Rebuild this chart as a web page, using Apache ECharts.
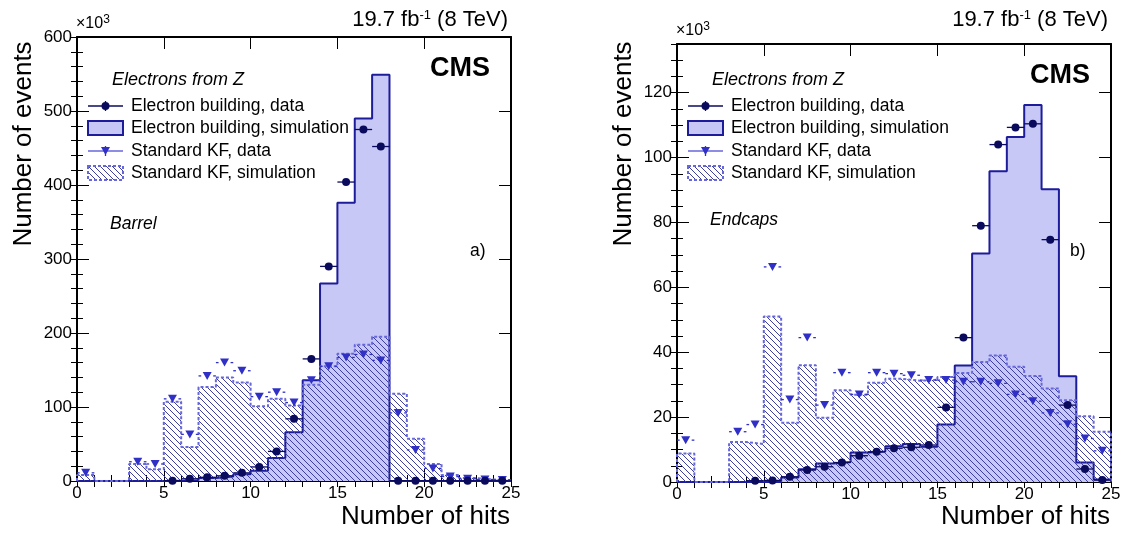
<!DOCTYPE html>
<html>
<head>
<meta charset="utf-8">
<script src="https://cdn.jsdelivr.net/npm/echarts@6/dist/echarts.min.js"></script>
<style>
  html, body { margin: 0; padding: 0; background: #fff; }
  #chart { width: 1126px; height: 533px; }
</style>
</head>
<body>
<div id="chart"></div>
<script>
// bin lower edges, unit width
const binLow = [0, 1, 2, 3, 4, 5, 6, 7, 8, 9, 10, 11, 12, 13, 14, 15, 16, 17, 18, 19, 20, 21, 22, 23, 24]

// barrel (x10^3 events)
const barrelElecData = [null, null, null, null, null, 0.5, 3, 5, 7, 11, 19, 40, 84, 165, 290, 404, 475, 452, 0.5, 0.3, 0.3, 0.2, 0.2, 0.2, 0.2]
const barrelElecSim = [0, 0, 0, 0, 0, 0.5, 1, 4, 6, 9, 14, 31, 66, 136, 267, 376, 490, 549, 0, 0, 0, 0, 0, 0, 0]
const barrelKFData = [11, null, null, 26, 23, 111, 63, 142, 160, 149, 114, 120, 106, 136, 155, 167, 171, 163, 92, 42, 17, 6, 3, 2, 1.5]
const barrelKFSim = [8, 0, 0, 23, 16, 107, 46, 127, 140, 133, 101, 111, 102, 130, 155, 172, 184, 195, 118, 57, 23, 8, 4, 2, 1]

// endcaps (x10^3 events)
const endElecData = [null, null, null, null, 0.4, 0.5, 1.6, 3.7, 4.7, 6, 8.1, 9.3, 10.4, 10.7, 11.4, 23, 44.5, 79, 104, 109.3, 110.4, 74.7, 23.7, 4, 0.6]
const endElecSim = [0, 0, 0, 0, 0, 0, 1.4, 3.9, 5.7, 6.2, 9.1, 9.4, 11, 11.7, 10.9, 17.7, 35.9, 70.4, 95.8, 106.3, 116.2, 90.2, 32.6, 6, 0.8]
const endKFData = [12.9, null, null, 15.5, 17.7, 66.3, 25.4, 44.5, 23.7, 33.7, 27, 33.7, 33.4, 32.9, 31.4, 31.4, 30.9, 30.9, 30.4, 27, 24.9, 21.3, 17.8, 13.4, 9.6]
const endKFSim = [8.8, 0, 0, 12.3, 11.7, 51, 18.3, 36, 19.8, 28.3, 26.9, 30.6, 31.8, 31.2, 31.5, 32.4, 33.6, 37, 39, 35.5, 32.7, 28.8, 25.2, 20.3, 15.5]

const legendNames = ['Electron building, data', 'Electron building, simulation', 'Standard KF, data', 'Standard KF, simulation']
const regionNames = ['Barrel', 'Endcaps']
const panelTags = ['a)', 'b)']

const FONT = '"Liberation Sans", Arial, Helvetica, sans-serif'
const NAVY = '#0b0b5e'
const SIM_LINE = '#1d1d9c'
const SIM_FILL = '#c8c8f6'
const KF_MARK = '#3030c6'
const KF_LINE = '#6767dc'
const HATCH = '#3e3e9e'

// hatch pattern, "\\\" direction
const hatchCanvas = document.createElement('canvas')
hatchCanvas.width = 6
hatchCanvas.height = 6
const hctx = hatchCanvas.getContext('2d')
hctx.strokeStyle = HATCH
hctx.lineWidth = 1
for (const s of [-6, 0, 6]) {
  hctx.beginPath()
  hctx.moveTo(s, 0)
  hctx.lineTo(s + 6, 6)
  hctx.stroke()
}
const hatch = { image: hatchCanvas, repeat: 'repeat' }

function stepData(vals) {
  const d = [[0, 0]]
  vals.forEach((v, i) => d.push([binLow[i], v]))
  d.push([25, vals[vals.length - 1]])
  d.push([25, 0])
  return d
}

function pointData(vals) {
  const d = []
  vals.forEach((v, i) => { if (v !== null) d.push([binLow[i] + 0.5, v]) })
  return d
}

function errBar(color, gap, dash) {
  return function (params, api) {
    const x = api.value(0)
    const y = api.value(1)
    const l = api.coord([x - 0.5, y])
    const r = api.coord([x + 0.5, y])
    const c = api.coord([x, y])
    const st = { stroke: color, lineWidth: 1.3, lineDash: dash }
    return {
      type: 'group',
      children: [
        { type: 'line', shape: { x1: l[0], y1: l[1], x2: c[0] - gap, y2: c[1] }, style: st },
        { type: 'line', shape: { x1: c[0] + gap, y1: c[1], x2: r[0], y2: r[1] }, style: st }
      ]
    }
  }
}

const grids = [
  { left: 77, top: 37, width: 434, height: 444 },
  { left: 677, top: 44, width: 434, height: 438 }
]

const xAxes = []
const yAxes = []
const labelStyle = { fontFamily: FONT, fontSize: 17, color: '#000' }

function addAxes(g, yMax, yMajor, yMinor) {
  const line = { show: true, onZero: false, lineStyle: { color: '#000', width: 2 } }
  const noLine = { show: false }
  const major = { inside: true, length: 12, lineStyle: { color: '#000', width: 1 } }
  const minor = { inside: true, length: 6, lineStyle: { color: '#000', width: 1 } }
  const base = { gridIndex: g, type: 'value', splitLine: { show: false } }
  const xi = xAxes.length
  xAxes.push(Object.assign({}, base, { min: 0, max: 25, interval: 5, position: 'bottom', axisLine: line, axisTick: major, axisLabel: Object.assign({ margin: 4 }, labelStyle) }))
  xAxes.push(Object.assign({}, base, { min: 0, max: 25, interval: 1, position: 'bottom', axisLine: noLine, axisTick: minor, axisLabel: { show: false } }))
  xAxes.push(Object.assign({}, base, { min: 0, max: 25, interval: 5, position: 'top', axisLine: line, axisTick: major, axisLabel: { show: false } }))
  xAxes.push(Object.assign({}, base, { min: 0, max: 25, interval: 1, position: 'top', axisLine: noLine, axisTick: minor, axisLabel: { show: false } }))
  const yi = yAxes.length
  yAxes.push(Object.assign({}, base, { min: 0, max: yMax, interval: yMajor, position: 'left', axisLine: line, axisTick: major, axisLabel: Object.assign({ margin: 5, showMaxLabel: yMax % yMajor === 0 }, labelStyle) }))
  yAxes.push(Object.assign({}, base, { min: 0, max: yMax, interval: yMinor, position: 'left', axisLine: noLine, axisTick: minor, axisLabel: { show: false } }))
  yAxes.push(Object.assign({}, base, { min: 0, max: yMax, interval: yMajor, position: 'right', axisLine: line, axisTick: major, axisLabel: { show: false } }))
  yAxes.push(Object.assign({}, base, { min: 0, max: yMax, interval: yMinor, position: 'right', axisLine: noLine, axisTick: minor, axisLabel: { show: false } }))
  return { xi, yi }
}

const ax0 = addAxes(0, 600, 100, 20)
const ax1 = addAxes(1, 135, 20, 5)

function panelSeries(ax, elecData, elecSim, kfData, kfSim) {
  const idx = { xAxisIndex: ax.xi, yAxisIndex: ax.yi }
  return [
    Object.assign({
      type: 'line', name: legendNames[1], data: stepData(elecSim), step: 'end', showSymbol: false, z: 2,
      lineStyle: { color: SIM_LINE, width: 2 }, areaStyle: { color: SIM_FILL, opacity: 1 }
    }, idx),
    Object.assign({
      type: 'line', name: legendNames[3], data: stepData(kfSim), step: 'end', showSymbol: false, z: 3,
      lineStyle: { color: KF_LINE, width: 2, type: [3, 2] }, areaStyle: { color: hatch, opacity: 1 }
    }, idx),
    Object.assign({
      type: 'custom', name: legendNames[2] + ' bars', data: pointData(kfData), z: 4,
      renderItem: errBar(KF_MARK, 6, [4, 2]), encode: { x: 0, y: 1 }
    }, idx),
    Object.assign({
      type: 'scatter', name: legendNames[2], data: pointData(kfData), z: 5,
      symbol: 'triangle', symbolRotate: 180, symbolSize: [9, 8], itemStyle: { color: KF_MARK, opacity: 1 }
    }, idx),
    Object.assign({
      type: 'custom', name: legendNames[0] + ' bars', data: pointData(elecData), z: 4,
      renderItem: errBar(NAVY, 0, null), encode: { x: 0, y: 1 }
    }, idx),
    Object.assign({
      type: 'scatter', name: legendNames[0], data: pointData(elecData), z: 6,
      symbol: 'circle', symbolSize: 8, itemStyle: { color: NAVY, opacity: 1 }
    }, idx)
  ]
}

function text(x, y, str, extra) {
  return {
    type: 'text', x: x, y: y, z: 100,
    style: Object.assign({ text: str, fontFamily: FONT, fontSize: 17.5, fill: '#000', align: 'left', verticalAlign: 'middle' }, extra)
  }
}

function panelGraphics(ox, i, topY) {
  const els = []
  const rows = [106, 128, 151, 173]
  const ix0 = ox + 88
  const ix1 = ox + 123
  const ic = (ix0 + ix1) / 2
  // header texts
  els.push(text(ox + 508, 20, '19.7 fb{sup|-1} (8 TeV)', {
    align: 'right', fontSize: 22,
    rich: { sup: { fontFamily: FONT, fontSize: 13, padding: [0, 0, 10, 0] } }
  }))
  els.push(text(ox + 76, topY - 3, '×10{sup|3}', {
    fontSize: 16, fill: '#000', verticalAlign: 'bottom',
    rich: { sup: { fontFamily: FONT, fontSize: 12, padding: [0, 0, 8, 0] } }
  }))
  els.push(text(ox + 490, topY + 32, 'CMS', { align: 'right', fontSize: 27, fontWeight: 'bold' }))
  els.push(text(ox + 112, 80, 'Electrons from Z', { fontStyle: 'italic', fontSize: 18 }))
  els.push(text(ox + 110, i === 0 ? 224 : 220, regionNames[i], { fontStyle: 'italic', fontSize: 17.5 }))
  els.push(text(ox + 470, 251, panelTags[i], { fontSize: 17.5 }))
  els.push(text(ox + 24, 144, 'Number of events', { align: 'center', fontSize: 26 }))
  els[els.length - 1].rotation = Math.PI / 2
  els.push(text(ox + 510, 517, 'Number of hits', { align: 'right', fontSize: 26 }))
  // legend
  legendNames.forEach((n, k) => els.push(text(ox + 131, rows[k], n, {})))
  els.push({ type: 'line', z: 100, shape: { x1: ix0, y1: rows[0], x2: ix1, y2: rows[0] }, style: { stroke: NAVY, lineWidth: 1.3 } })
  els.push({ type: 'line', z: 100, shape: { x1: ic, y1: rows[0] - 5, x2: ic, y2: rows[0] + 5 }, style: { stroke: NAVY, lineWidth: 1.3 } })
  els.push({ type: 'circle', z: 101, shape: { cx: ic, cy: rows[0], r: 4 }, style: { fill: NAVY } })
  els.push({ type: 'rect', z: 100, shape: { x: ix0, y: rows[1] - 7, width: ix1 - ix0, height: 14 }, style: { fill: SIM_FILL, stroke: SIM_LINE, lineWidth: 2 } })
  els.push({ type: 'line', z: 100, shape: { x1: ix0, y1: rows[2], x2: ix1, y2: rows[2] }, style: { stroke: KF_LINE, lineWidth: 1.3 } })
  els.push({ type: 'line', z: 100, shape: { x1: ic, y1: rows[2] - 5, x2: ic, y2: rows[2] + 5 }, style: { stroke: KF_MARK, lineWidth: 1.3 } })
  els.push({ type: 'polygon', z: 101, shape: { points: [[ic - 4.5, rows[2] - 4], [ic + 4.5, rows[2] - 4], [ic, rows[2] + 4]] }, style: { fill: KF_MARK } })
  els.push({ type: 'rect', z: 100, shape: { x: ix0, y: rows[3] - 7, width: ix1 - ix0, height: 14 }, style: { fill: hatch, stroke: KF_LINE, lineWidth: 2, lineDash: [3, 2] } })
  return els
}

const chart = echarts.init(document.getElementById('chart'), null, { renderer: 'canvas' })
chart.setOption({
  animation: false,
  backgroundColor: '#fff',
  grid: grids.map(g => Object.assign({ outerBoundsMode: 'none', containLabel: false }, g)),
  xAxis: xAxes,
  yAxis: yAxes,
  series: panelSeries(ax0, barrelElecData, barrelElecSim, barrelKFData, barrelKFSim)
    .concat(panelSeries(ax1, endElecData, endElecSim, endKFData, endKFSim)),
  graphic: { elements: panelGraphics(0, 0, 37).concat(panelGraphics(600, 1, 44)) }
})
</script>
</body>
</html>
